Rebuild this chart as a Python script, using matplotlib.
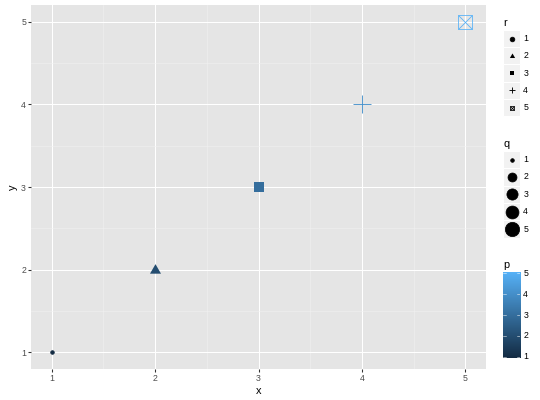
import numpy as np
import matplotlib
matplotlib.use('Agg')
import matplotlib.pyplot as plt
from matplotlib.colors import LinearSegmentedColormap
from matplotlib.patches import Rectangle

plt.rcParams['font.family'] = ['Liberation Sans', 'DejaVu Sans']

# data
x = [1, 2, 3, 4, 5]
y = [1, 2, 3, 4, 5]
p = [1, 2, 3, 4, 5]
q = [1, 2, 3, 4, 5]
r = [1, 2, 3, 4, 5]
ticks = [1, 2, 3, 4, 5]
minor_ticks = [1.5, 2.5, 3.5, 4.5]

cmap = LinearSegmentedColormap.from_list('gg', ['#132B43', '#56B1F7'])
TRI = [(0, 0.583), (-0.505, -0.2915), (0.505, -0.2915)]


def gg_size(v):
    # scale_size: area palette, range 1..6
    t = (v - min(q)) / (max(q) - min(q))
    return 1 + 5 * np.sqrt(t)


def font_pt(s, stroke=0.5):
    return s * 72.27 / 25.4 + stroke * 96 / 25.4 / 2


def draw_shape(ax, xx, yy, shape, s, color, z=3):
    f = font_pt(s)
    if shape == 1:
        ax.plot(xx, yy, 'o', ms=0.75 * f + 0.8, color=color, mew=0.7, zorder=z)
    elif shape == 2:
        ax.plot(xx, yy, marker=TRI, ms=1.166 * f, color=color, mew=0, ls='none', zorder=z)
    elif shape == 3:
        ax.plot(xx, yy, 's', ms=0.75 * f, color=color, mew=0, zorder=z)
    elif shape == 4:
        ax.plot(xx, yy, '+', ms=1.06 * f, color=color, mew=0.9, zorder=z)
    else:
        ax.plot(xx, yy, 's', ms=0.75 * f, mfc='none', mec=color, mew=0.8, zorder=z)
        ax.plot(xx, yy, 'x', ms=0.75 * f, color=color, mew=0.8, zorder=z)


fig = plt.figure(figsize=(540 / 72, 400 / 72), dpi=72)
ax = fig.add_axes([31 / 540, 31 / 400, 455 / 540, 364 / 400])
ax.set_facecolor('#E5E5E5')
for sp in ax.spines.values():
    sp.set_visible(False)
ax.set_xlim(0.8, 5.2)
ax.set_ylim(0.8, 5.2)
ax.set_xticks(ticks)
ax.set_yticks(ticks)
ax.set_xticks(minor_ticks, minor=True)
ax.set_yticks(minor_ticks, minor=True)
ax.grid(which='major', color='white', lw=1.07)
ax.grid(which='minor', color='#F2F2F2', lw=0.53)
ax.set_axisbelow(True)
ax.tick_params(which='major', length=2.75, width=1.07, color='#333333',
               labelcolor='#4D4D4D', labelsize=8.8, pad=2.2)
ax.tick_params(which='minor', length=0)
ax.set_xlabel('x', fontsize=11, labelpad=2.75)
ax.set_ylabel('y', fontsize=11, labelpad=2.75)

for xi, yi, pi, qi, ri in zip(x, y, p, q, r):
    col = cmap((pi - min(p)) / (max(p) - min(p)))
    draw_shape(ax, xi, yi, ri, gg_size(qi), col)

# legends drawn in pixel space
lax = fig.add_axes([0, 0, 1, 1])
lax.set_xlim(0, 540)
lax.set_ylim(400, 0)
lax.axis('off')
lax.patch.set_visible(False)

key = 17.28
kx = 503

lax.text(kx, 22.5, 'r', fontsize=11, va='center', ha='left')
for i, rv in enumerate(r):
    cy = 38.5 + i * key
    lax.add_patch(Rectangle((kx, cy - key / 2), key, key, facecolor='#F2F2F2',
                            edgecolor='white', lw=1))
    draw_shape(lax, kx + key / 2, cy, rv, 1.5, 'black')
    lax.text(kx + key + 3, cy, str(rv), fontsize=8.8, va='center', ha='left')

lax.text(kx, 144, 'q', fontsize=11, va='center', ha='left')
for i, qv in enumerate(q):
    cy = 159.5 + i * 17.4
    lax.add_patch(Rectangle((kx, cy - key / 2), key, key, facecolor='#F2F2F2',
                            edgecolor='white', lw=1))
    lax.plot(kx + key / 2, cy, 'o', ms=0.75 * font_pt(gg_size(qv)) + 0.8,
             color='black', mew=0.7)
    lax.text(kx + key + 3, cy, str(qv), fontsize=8.8, va='center', ha='left')

lax.text(kx, 265, 'p', fontsize=11, va='center', ha='left')
bar_top, bar_bot = 272, 358
cax = fig.add_axes([kx / 540, (400 - bar_bot) / 400, key / 540, (bar_bot - bar_top) / 400])
grad = np.linspace(0, 1, 300)[:, None]
cax.imshow(grad, aspect='auto', cmap=cmap, origin='lower', extent=[0, 1, 0.95, 5.05])
cax.set_xlim(0, 1)
cax.set_ylim(0.95, 5.05)
for v in p:
    cax.plot([0, 0.2], [v, v], color='white', lw=0.5)
    cax.plot([0.8, 1], [v, v], color='white', lw=0.5)
    py = bar_bot - (v - 0.95) / 4.1 * (bar_bot - bar_top)
    lax.text(kx + key + 3, py, str(v), fontsize=8.8, va='center', ha='left')
cax.axis('off')

fig.savefig('out.png', dpi=72)
